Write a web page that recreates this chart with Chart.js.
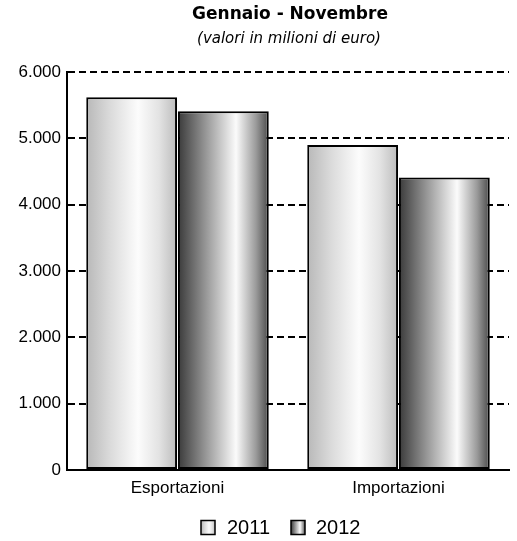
<!DOCTYPE html>
<html>
<head>
<meta charset="utf-8">
<script src="https://cdn.jsdelivr.net/npm/chart.js@4/dist/chart.umd.min.js"></script>
<style>
html,body{margin:0;padding:0;background:#fff;}
#wrap{width:517px;height:541px;position:relative;}
</style>
</head>
<body>
<div id="wrap"><canvas id="c" width="517" height="541"></canvas></div>
<script>
const categories = ['Esportazioni', 'Importazioni'];
const seriesNames = ['2011', '2012'];
const values2011 = [5620, 4900];
const values2012 = [5410, 4410];
const yTickLabels = ['0', '1.000', '2.000', '3.000', '4.000', '5.000', '6.000'];
const titleText = 'Gennaio - Novembre';
const subtitleText = '(valori in milioni di euro)';

const CAT_PCT = 0.83;
const BAR_PCT = 0.99;

const gradStops = [
  [[0, '#b8b8b8'], [0.25, '#d9d9d9'], [0.57, '#fcfcfc'], [0.8, '#e3e3e3'], [1, '#bcbcbc']],
  [[0, '#3a3a3a'], [0.3, '#959595'], [0.64, '#fbfbfb'], [0.86, '#9a9a9a'], [1, '#4a4a4a']]
];

function makeGrad(ctx2d, left, width, di) {
  const g = ctx2d.createLinearGradient(left, 0, left + width, 0);
  gradStops[di].forEach(s => g.addColorStop(s[0], s[1]));
  return g;
}

function barFill(context) {
  const chart = context.chart;
  const di = context.datasetIndex;
  const xs = chart.scales && chart.scales.x;
  if (context.type !== 'data' || !xs || !chart.chartArea) {
    return di === 0 ? '#dddddd' : '#888888';
  }
  const center = xs.getPixelForValue(context.dataIndex);
  const catW = xs.width / categories.length;
  const slot = catW * CAT_PCT / 2;
  const barW = slot * BAR_PCT;
  const c = center + (di - 0.5) * slot;
  return makeGrad(chart.ctx, c - barW / 2, barW, di);
}

const textPlugin = {
  id: 'texts',
  afterDraw(chart) {
    const ctx = chart.ctx;
    ctx.save();
    ctx.fillStyle = '#000';
    ctx.textAlign = 'center';
    ctx.textBaseline = 'middle';
    ctx.font = 'bold 17px "DejaVu Sans"';
    ctx.fillText(titleText, 290, 15);
    ctx.font = 'italic 15px "DejaVu Sans"';
    ctx.fillText(subtitleText, 289, 39);
    // legend
    ctx.font = '20px "Liberation Sans", Arial';
    ctx.textAlign = 'left';
    const boxes = [{x: 201, tx: 227}, {x: 291, tx: 316}];
    seriesNames.forEach((name, i) => {
      const b = boxes[i];
      const y = 520.5;
      ctx.fillStyle = makeGrad(ctx, b.x, 14, i);
      ctx.fillRect(b.x, y, 14, 14);
      ctx.strokeStyle = '#000';
      ctx.lineWidth = 1.5;
      ctx.strokeRect(b.x, y, 14, 14);
      ctx.fillStyle = '#000';
      ctx.fillText(name, b.tx, 528.5);
    });
    ctx.restore();
  }
};

const barStyle = {
  categoryPercentage: CAT_PCT,
  barPercentage: BAR_PCT,
  backgroundColor: barFill,
  borderColor: '#000',
  borderWidth: 2,
  borderSkipped: false
};

new Chart(document.getElementById('c'), {
  type: 'bar',
  data: {
    labels: categories,
    datasets: [
      Object.assign({ label: seriesNames[0], data: values2011 }, barStyle),
      Object.assign({ label: seriesNames[1], data: values2012 }, barStyle)
    ]
  },
  options: {
    responsive: false,
    animation: false,
    devicePixelRatio: 1,
    layout: { padding: { top: 72, right: 8, left: 0, bottom: 0 } },
    plugins: {
      legend: { display: false },
      title: { display: false },
      tooltip: { enabled: false },
      colors: { enabled: false }
    },
    scales: {
      x: {
        grid: { display: false, drawTicks: false },
        border: { display: true, color: '#000', width: 2 },
        ticks: { color: '#000', font: { family: '"Liberation Sans", Arial', size: 17 }, padding: 8 },
        afterFit(s) { s.height = 71; }
      },
      y: {
        min: 0, max: 6000,
        grid: { color: '#000', lineWidth: 2, drawTicks: false },
        border: { display: true, color: '#000', width: 2, dash: [7, 4] },
        ticks: {
          stepSize: 1000,
          color: '#000',
          padding: 6,
          font: { family: '"Liberation Sans", Arial', size: 17 },
          callback: (v, i) => yTickLabels[i]
        },
        afterFit(s) { s.width = 67; }
      }
    }
  },
  plugins: [textPlugin]
});
</script>
</body>
</html>
